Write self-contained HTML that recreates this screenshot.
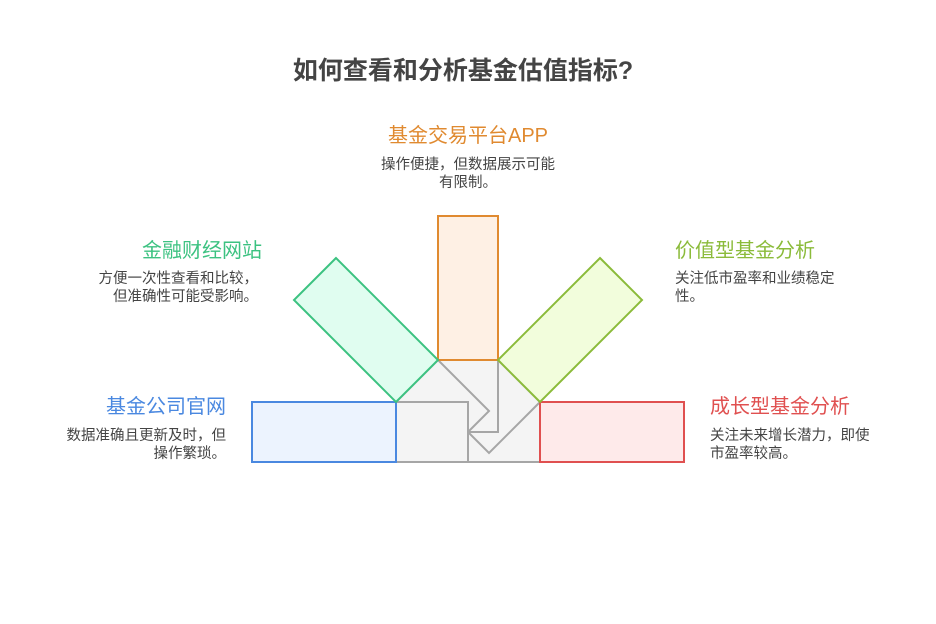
<!DOCTYPE html>
<html><head><meta charset="utf-8"><style>
body{margin:0;width:936px;height:624px;background:#fff;position:relative;font-family:"Liberation Sans","Noto Sans CJK SC",sans-serif;overflow:hidden}
.t{position:absolute;white-space:nowrap}
.h{font-size:20px}
.d{font-size:14.5px;color:#444;line-height:18px}
</style></head><body>
<div class="t" style="left:0;width:926px;top:51px;text-align:center;font-size:25px;font-weight:bold;color:#444">如何查看和分析基金估值指标?</div>
<div class="t h" style="left:388px;top:119px;color:#e08a30">基金交易平台APP</div>
<div class="t d" style="left:368px;top:156px;width:200px;text-align:center">操作便捷，但数据展示可能<br>有限制。</div>
<div class="t h" style="right:674px;top:234px;color:#3cc281">金融财经网站</div>
<div class="t d" style="right:678px;top:270px;text-align:right">方便一次性查看和比较，<br>但准确性可能受影响。</div>
<div class="t h" style="left:675px;top:234px;color:#8bbb3a">价值型基金分析</div>
<div class="t d" style="left:675px;top:270px">关注低市盈率和业绩稳定<br>性。</div>
<div class="t h" style="right:710px;top:390px;color:#4a88e0">基金公司官网</div>
<div class="t d" style="right:710px;top:427px;text-align:right">数据准确且更新及时，但<br>操作繁琐。</div>
<div class="t h" style="left:710px;top:390px;color:#e05050">成长型基金分析</div>
<div class="t d" style="left:710px;top:427px">关注未来增长潜力，即使<br>市盈率较高。</div>
<svg width="936" height="624" style="position:absolute;left:0;top:0">
<polygon points="396,402 438,360 498,360 540,402 540,462 396,462" fill="#f4f4f4" stroke="#a6a6a6" stroke-width="2"/>
<polyline points="396,402 468,402 468,462" fill="none" stroke="#a6a6a6" stroke-width="2"/>
<polyline points="498,360 498,432 468,432" fill="none" stroke="#a6a6a6" stroke-width="2"/>
<polyline points="438,360 489,411 468,432" fill="none" stroke="#a6a6a6" stroke-width="2"/>
<polyline points="540,402 489,453 468,432" fill="none" stroke="#a6a6a6" stroke-width="2"/>
<rect x="252" y="402" width="144" height="60" fill="#ecf3fe" stroke="#4a88e0" stroke-width="2"/>
<rect x="540" y="402" width="144" height="60" fill="#feeaea" stroke="#e05050" stroke-width="2"/>
<rect x="438" y="216" width="60" height="144" fill="#fef0e4" stroke="#e08a30" stroke-width="2"/>
<polygon points="336,258 294,300 396,402 438,360" fill="#e0fdf0" stroke="#3cc281" stroke-width="2"/>
<polygon points="600,258 642,300 540,402 498,360" fill="#f2fddc" stroke="#8bbb3a" stroke-width="2"/>
</svg>
</body></html>
